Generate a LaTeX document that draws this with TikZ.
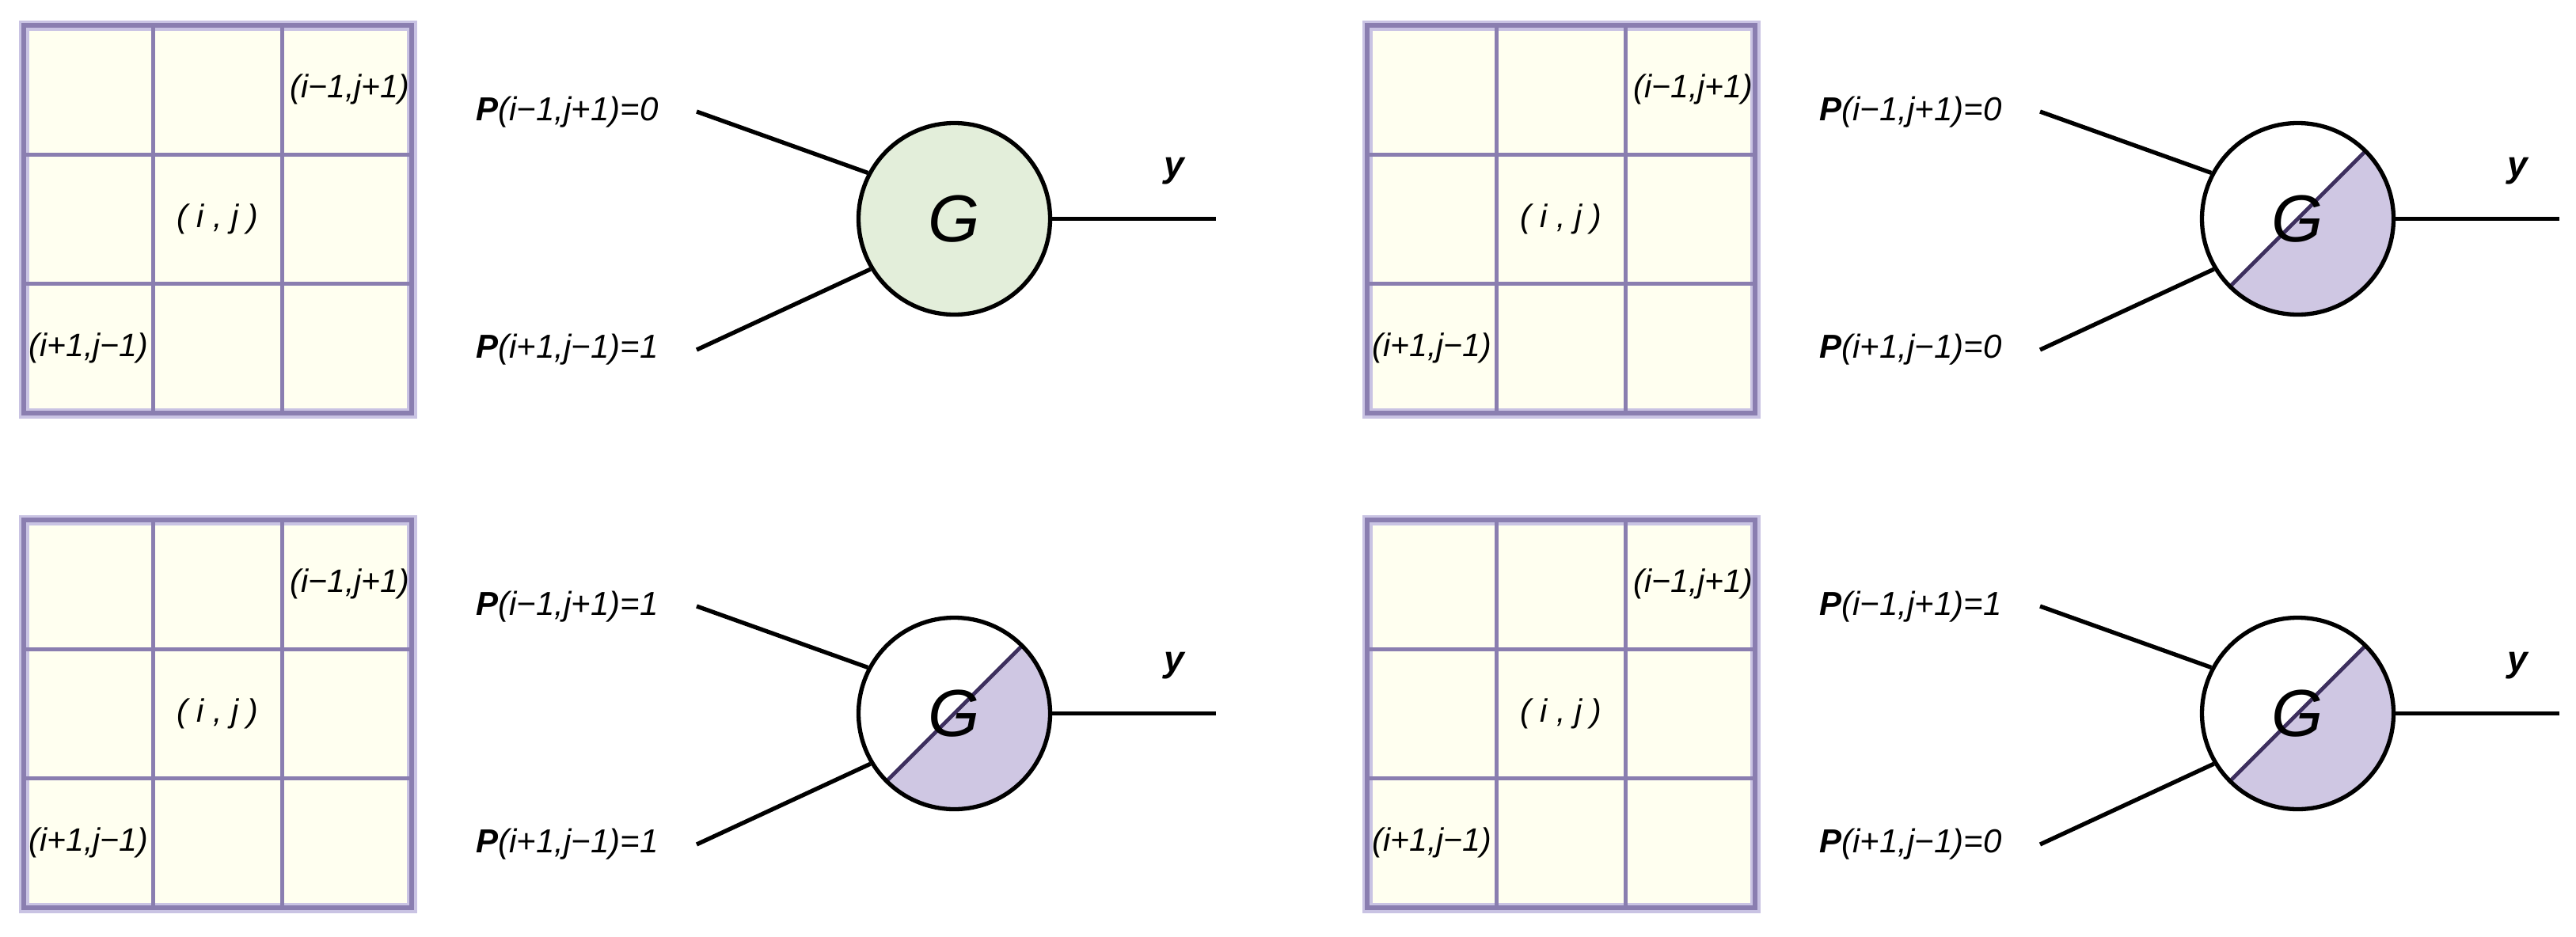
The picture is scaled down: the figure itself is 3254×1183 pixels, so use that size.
\documentclass[tikz,border=0pt]{standalone}
\usepackage{fontspec}
\setmainfont{Liberation Sans}
\usepackage{tikz}

\definecolor{cellbg}{HTML}{FFFFF0}
\definecolor{gridpurple}{HTML}{8A7EB0}
\definecolor{framepurple}{HTML}{C9C3E3}
\definecolor{gatefill}{HTML}{E3EEDA}
\definecolor{halfpurple}{HTML}{CFC7E3}
\definecolor{diagpurple}{HTML}{3D2F5E}

\begin{document}
\begin{tikzpicture}[x=0.5pt, y=0.5pt,
	lbl/.style={inner sep=0pt, font=\fontsize{20.5}{24}\selectfont\itshape},
	plbl/.style={inner sep=0pt, anchor=base east, font=\fontsize{21}{25}\selectfont\itshape},
	wire/.style={line width=2.65pt, black},
	gridln/.style={gridpurple, line width=2.8pt},
	gate/.style={circle, draw=black, line width=2.65pt, minimum size=121pt, inner sep=0pt,
		font=\fontsize{42}{48}\selectfont\itshape},
	fullg/.style={fill=gatefill},
	halfg/.style={fill=white, path picture={
		\fill[halfpurple] (path picture bounding box.south west) -- (path picture bounding box.south east)
			-- (path picture bounding box.north east) -- cycle;
		\draw[diagpurple, line width=2.4pt] (path picture bounding box.south west) -- (path picture bounding box.north east);}}]
	\useasboundingbox (0,0) rectangle (3254,-1183);

	\foreach \dx/\dy/\n/\va/\vb/\gs in {0/0/1/0/1/fullg, 1697/0/2/0/0/halfg, 0/-625/3/1/1/halfg, 1697/-625/4/1/0/halfg}{
		\begin{scope}[shift={(\dx,\dy)}]
			% 3x3 neighbourhood
			\fill[cellbg] (30,-32) rectangle (520,-522);
			\draw[framepurple, line width=6.5pt] (30,-32) rectangle (520,-522);
			\draw[gridln] (30,-32) rectangle (520,-522);
			\foreach \i in {1,2}{
				\draw[gridln] (30+\i*163.33,-32) -- (30+\i*163.33,-522);
				\draw[gridln] (30,-32-\i*163.33) -- (520,-32-\i*163.33);
			}

			\node[lbl] (ne\n) at (442,-113) {(i−1,j+1)};
			\node[lbl] (c\n) at (275,-277) {( i , j )};
			\node[lbl] (sw\n) at (112,-440) {(i+1,j−1)};

			% gate
			\node[gate, \gs] (G\n) at (1205.5,-276.5) {G};

			\node[plbl] (pa\n) at (832,-152) {\textbf{P}(i−1,j+1)=\va};
			\node[plbl] (pb\n) at (832,-452) {\textbf{P}(i+1,j−1)=\vb};
			\coordinate (ua\n) at (880,-141);
			\coordinate (ub\n) at (880,-442);
			\coordinate (out\n) at (1536,-276.5);

			\draw[wire] (ua\n) -- (G\n.152);
			\draw[wire] (ub\n) -- (G\n.211);
			\draw[wire] (G\n.east) -- (out\n);

			\node[inner sep=0pt, anchor=base, font=\fontsize{23}{28}\selectfont\bfseries\itshape] (y\n) at (1483,-223) {y};
		\end{scope}
	}
\end{tikzpicture}
\end{document}
